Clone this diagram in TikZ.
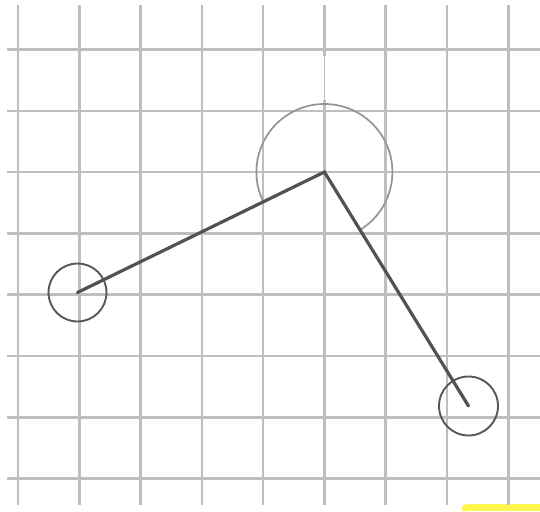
\documentclass[tikz,border=0pt]{standalone}
\usetikzlibrary{calc}
\begin{document}
\begin{tikzpicture}[x=1pt,y=-1pt,
  gridline/.style={draw=black!25,line width=2.6pt},
  faintline/.style={draw=black!26,line width=1.3pt},
  arm/.style={draw=black!68,line width=3.2pt,line cap=round},
  joint/.style={circle,draw=black!66,line width=1.9pt,minimum size=58pt,inner sep=0pt},
  reacharc/.style={draw=black!42,line width=1.7pt}]
\useasboundingbox (0,0) rectangle (540,511);
\fill[white] (0,0) rectangle (540,511);
% highlight
\fill[yellow!70] (462,511) -- (462,508) to[out=90,in=180] (470,504) -- (540,504) -- (540,511) -- cycle;
% grid
\foreach \k in {0,...,8}{
  \pgfmathsetmacro{\xx}{17.9+61.3*\k}
  \ifnum\k=5
    \draw[gridline] (\xx,5) -- (\xx,56);
    \draw[faintline] (\xx,56) -- (\xx,100);
    \draw[gridline] (\xx,100) -- (\xx,505);
  \else
    \draw[gridline] (\xx,5) -- (\xx,505);
  \fi
}
\foreach \k in {0,...,7}{
  \pgfmathsetmacro{\yy}{49.5+61.3*\k}
  \draw[gridline] (7,\yy) -- (540,\yy);
}
% joints
\coordinate (shoulder) at (324.4,172);
\node[joint] (base) at (77.5,292.5) {};
\node[joint,minimum size=59pt] (tip) at (468.5,406) {};
% range arc
\draw[reacharc] ($(shoulder)+(58:68)$) arc[start angle=58,end angle=-206,radius=68];
% arms
\draw[arm] (base.center) -- (shoulder) -- (tip.center);
\end{tikzpicture}
\end{document}
